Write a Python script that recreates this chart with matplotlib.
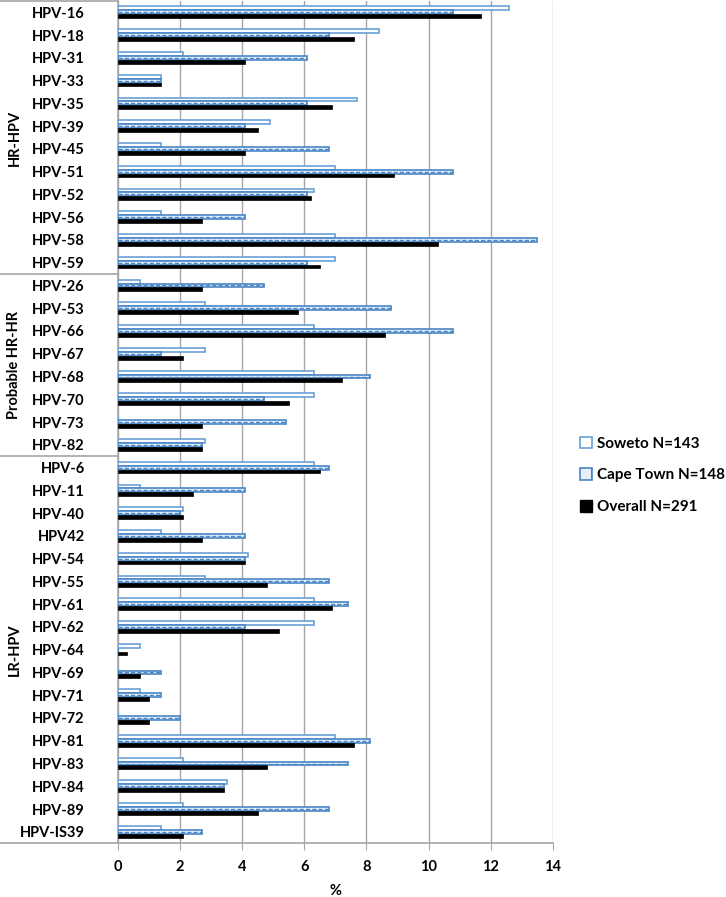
import matplotlib
matplotlib.use("Agg")
import matplotlib.pyplot as plt
from matplotlib.patches import Patch
import numpy as np

plt.rcParams["font.family"] = ["Lato", "DejaVu Sans"]

# ─── Data ────────────────────────────────────────────────────────────────────

types = [
    "HPV-16", "HPV-18", "HPV-31", "HPV-33", "HPV-35", "HPV-39", "HPV-45", "HPV-51",
    "HPV-52", "HPV-56", "HPV-58", "HPV-59",
    "HPV-26", "HPV-53", "HPV-66", "HPV-67", "HPV-68", "HPV-70", "HPV-73", "HPV-82",
    "HPV-6", "HPV-11", "HPV-40", "HPV42", "HPV-54", "HPV-55", "HPV-61", "HPV-62",
    "HPV-64", "HPV-69", "HPV-71", "HPV-72", "HPV-81", "HPV-83", "HPV-84", "HPV-89",
    "HPV-IS39",
]
groups = ["HR-HPV", "Probable HR-HR", "LR-HPV"]
group_sizes = [12, 8, 17]

soweto = [
    12.6, 8.4, 2.1, 1.4, 7.7, 4.9, 1.4, 7.0, 6.3, 1.4, 7.0, 7.0,
    0.7, 2.8, 6.3, 2.8, 6.3, 6.3, 0.0, 2.8,
    6.3, 0.7, 2.1, 1.4, 4.2, 2.8, 6.3, 6.3, 0.7, 0.0, 0.7, 0.0, 7.0, 2.1, 3.5, 2.1, 1.4,
]
cape_town = [
    10.8, 6.8, 6.1, 1.4, 6.1, 4.1, 6.8, 10.8, 6.1, 4.1, 13.5, 6.1,
    4.7, 8.8, 10.8, 1.4, 8.1, 4.7, 5.4, 2.7,
    6.8, 4.1, 2.0, 4.1, 4.1, 6.8, 7.4, 4.1, 0.0, 1.4, 1.4, 2.0, 8.1, 7.4, 3.4, 6.8, 2.7,
]
overall = [
    11.7, 7.6, 4.1, 1.4, 6.9, 4.5, 4.1, 8.9, 6.2, 2.7, 10.3, 6.5,
    2.7, 5.8, 8.6, 2.1, 7.2, 5.5, 2.7, 2.7,
    6.5, 2.4, 2.1, 2.7, 4.1, 4.8, 6.9, 5.2, 0.3, 0.7, 1.0, 1.0, 7.6, 4.8, 3.4, 4.5, 2.1,
]
series_labels = ["Soweto N=143", "Cape Town N=148", "Overall N=291"]
x_ticks = [0, 2, 4, 6, 8, 10, 12, 14]

# ─── Plot ────────────────────────────────────────────────────────────────────

SOWETO_EDGE = "#6A9FD6"
CT_EDGE = "#4A86C5"
CT_FACE = "#E6F0FA"
GRID = "#A6A6A6"

fig = plt.figure(figsize=(7.26, 8.97), dpi=100)
ax = fig.add_axes([0.1625, 0.06, 0.599, 0.939])

pos = np.arange(len(types))
h = 0.17
ax.barh(pos - h, soweto, height=h, color="white", edgecolor=SOWETO_EDGE, linewidth=1.2, zorder=3)
ax.barh(pos, cape_town, height=h, color=CT_FACE, edgecolor=CT_EDGE, linewidth=1.2, zorder=3)
ax.hlines(pos, 0, cape_town, colors=CT_EDGE, linewidth=1.0, linestyles=(0, (3, 1.5)), zorder=4)
ax.barh(pos + h, overall, height=h, color="black", edgecolor="black", linewidth=0.5, zorder=3)

ax.set_xlim(0, 14)
ax.set_ylim(len(types) - 0.5, -0.5)
ax.set_xticks(x_ticks)
ax.set_xticklabels([str(t) for t in x_ticks], fontsize=10.5, fontweight="bold")
ax.set_yticks(pos)
ax.set_yticklabels(types, fontsize=10.5, fontweight="bold")
ax.tick_params(axis="y", length=0, pad=24)
ax.tick_params(axis="x", length=5, color=GRID, pad=7)
ax.set_xlabel("%", fontsize=10.5, fontweight="bold", labelpad=7)

ax.grid(axis="x", color=GRID, linewidth=1.0, zorder=0)
for side in ["top", "right"]:
    ax.spines[side].set_visible(False)
ax.spines["left"].set_color(GRID)
ax.spines["bottom"].set_color(GRID)
ax.spines["left"].set_linewidth(1.2)
ax.spines["bottom"].set_linewidth(1.2)

# group separators and labels in the left margin
trans = ax.get_yaxis_transform()
edge = -0.5
left = -0.275
ax.plot([left, 0], [edge, edge], transform=trans, color=GRID, lw=1.2, clip_on=False)
for name, size in zip(groups, group_sizes):
    mid = edge + size / 2
    edge += size
    ax.plot([left, 0], [edge, edge], transform=trans, color=GRID, lw=1.2, clip_on=False)
    ax.text(-0.238, mid, name, transform=trans, rotation=90, ha="center", va="center",
            fontsize=10.5, fontweight="bold")

handles = [
    Patch(facecolor="white", edgecolor=SOWETO_EDGE, linewidth=1.2),
    Patch(facecolor=CT_FACE, edgecolor=CT_EDGE, linewidth=1.2, hatch="|"),
    Patch(facecolor="black", edgecolor="black"),
]
fig.legend(handles, series_labels, loc="center left", bbox_to_anchor=(0.78, 0.47),
           frameon=False, handlelength=0.8, handleheight=0.8, handletextpad=0.3,
           labelspacing=1.15, prop={"weight": "bold", "size": 11})

fig.savefig("out.png", dpi=100)
